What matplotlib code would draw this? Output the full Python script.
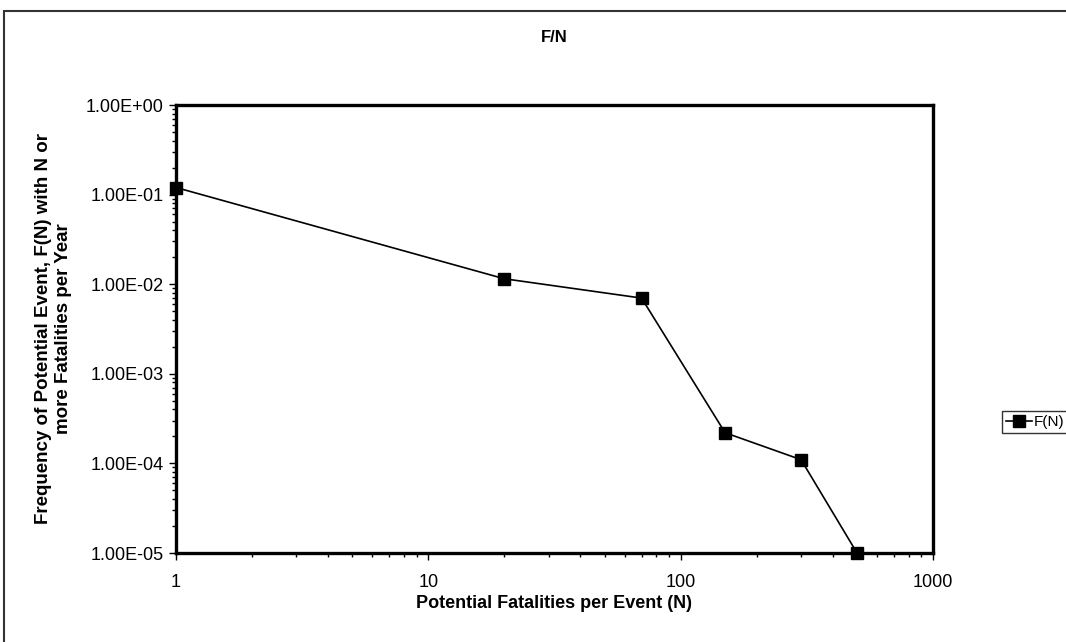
import matplotlib.pyplot as plt
from matplotlib.patches import Rectangle
from matplotlib.ticker import LogLocator, FuncFormatter

# F/N curve data
fatalities = [1, 20, 70, 150, 300, 500]
frequency = [1.2e-1, 1.15e-2, 7.0e-3, 2.2e-4, 1.1e-4, 1.0e-5]

plt.rcParams['font.family'] = ['Liberation Sans', 'DejaVu Sans']

fig = plt.figure(figsize=(10.66, 6.42), dpi=100)
ax = fig.add_axes([176 / 1066, 1 - 553 / 642, (933 - 176) / 1066, (553 - 105) / 642])

# outer chart border (runs off the right and bottom edges)
fig.patches.append(Rectangle((4 / 1066, -0.1), 1.2, 0.1 + (1 - 11 / 642),
                             transform=fig.transFigure, fill=False,
                             edgecolor='#333333', linewidth=1.5))

ax.plot(fatalities, frequency, color='black', linewidth=1.2,
        marker='s', markersize=9, label='F(N)', clip_on=False, zorder=5)

ax.set_xscale('log')
ax.set_yscale('log')
ax.set_xlim(1, 1000)
ax.set_ylim(1e-5, 1)

ax.yaxis.set_major_locator(LogLocator(base=10, numticks=10))
ax.yaxis.set_major_formatter(FuncFormatter(lambda v, p: '%.2E' % v))
ax.xaxis.set_major_formatter(FuncFormatter(lambda v, p: '%d' % v))

for s in ax.spines.values():
    s.set_linewidth(2.4)
ax.tick_params(which='major', direction='out', length=5, width=1, labelsize=13)
ax.tick_params(which='minor', direction='out', length=3, width=1)
ax.tick_params(axis='x', which='major', pad=10)
ax.tick_params(axis='y', which='major', pad=4)

ax.set_title('F/N', fontsize=12, fontweight='bold', pad=45)
ax.set_xlabel('Potential Fatalities per Event (N)', fontsize=13, fontweight='bold', labelpad=3)
ax.set_ylabel('Frequency of Potential Event, F(N) with N or\nmore Fatalities per Year',
              fontsize=13.5, fontweight='bold', labelpad=10)

fig.legend(loc='center left', bbox_to_anchor=(1002 / 1066, 1 - 422 / 642),
           frameon=True, fancybox=False, edgecolor='black', fontsize=11,
           handlelength=1.7, handletextpad=0.15, borderpad=0.25, borderaxespad=0)

fig.savefig('out.png', dpi=100)
